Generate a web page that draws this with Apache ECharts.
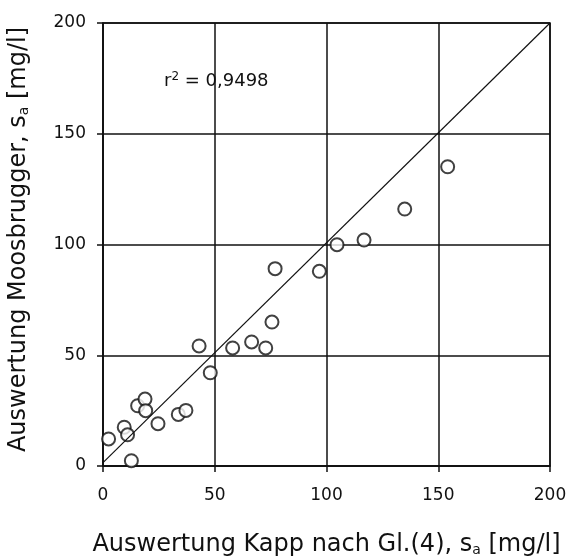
<!DOCTYPE html>
<html>
<head>
<meta charset="utf-8">
<script src="https://cdn.jsdelivr.net/npm/echarts@6/dist/echarts.min.js"></script>
<style>
  html, body { margin: 0; padding: 0; background: #fff; }
  #chart { width: 569px; height: 557px; }
</style>
</head>
<body>
<div id="chart"></div>
<script>
// Kapp (x) vs Moosbrugger (y), s_a in mg/l
const kapp = [2.5, 9.5, 11, 12.7, 15.5, 18.8, 19.1, 24.6, 33.7, 37.1, 43, 48, 58, 66.5, 72.8, 75.6, 77, 96.8, 104.7, 116.8, 135, 154.2];
const moos = [12.2, 17.5, 14.1, 2.4, 27.2, 30.2, 25, 19.1, 23.3, 25.1, 54.2, 42.1, 53.3, 56, 53.3, 65, 89.1, 87.9, 99.9, 102, 116, 135.1];
const fitLine = [[0, 1.5], [200, 200]];
const axisTicks = [0, 50, 100, 150, 200];
const r2Text = "0,9498";

const points = kapp.map((x, i) => [x, moos[i]]);

const chart = echarts.init(document.getElementById("chart"));

const ink = "#111";
const font = "DejaVu Sans, sans-serif";

const axisBase = {
    type: "value",
    min: axisTicks[0],
    max: axisTicks[axisTicks.length - 1],
    interval: 50,
    axisLine: { show: true, lineStyle: { color: ink, width: 1.5 } },
    axisTick: { show: true, length: 6, lineStyle: { color: ink, width: 1.5 } },
    splitLine: { show: true, lineStyle: { color: ink, width: 1.5 } },
    axisLabel: { color: ink, fontSize: 17, fontFamily: font },
    nameLocation: "middle"
};

const nameStyle = (pad) => ({
    color: ink,
    fontSize: 24,
    fontFamily: font,
    padding: pad,
    rich: {
        sub: { fontSize: 14, verticalAlign: "bottom", padding: [8, 0, 0, 0], color: ink, fontFamily: font }
    }
});

chart.setOption({
    backgroundColor: "#fff",
    animation: false,
    grid: {
        left: 103,
        right: 19,
        top: 23,
        bottom: 91,
        outerBoundsMode: "none",
        containLabel: false,
        show: true,
        borderColor: ink,
        borderWidth: 1.5
    },
    xAxis: Object.assign({}, axisBase, {
        name: "Auswertung Kapp nach Gl.(4), s{sub|a} [mg/l]",
        nameGap: 67,
        nameTextStyle: nameStyle([0, 0, 0, 0]),
        axisLabel: Object.assign({}, axisBase.axisLabel, { margin: 21 })
    }),
    yAxis: Object.assign({}, axisBase, {
        name: "Auswertung Moosbrugger, s{sub|a} [mg/l]",
        nameGap: 72,
        nameTextStyle: nameStyle([0, 0, 0, 10]),
        axisLabel: Object.assign({}, axisBase.axisLabel, { margin: 17 })
    }),
    graphic: [{
        type: "text",
        left: 164,
        top: 71,
        style: {
            text: "r{sup|2} = " + r2Text,
            fill: ink,
            fontSize: 18,
            fontFamily: font,
            rich: {
                sup: { fontSize: 12, verticalAlign: "top", padding: [0, 0, 8, 0], fill: ink, fontFamily: font }
            }
        }
    }],
    series: [
        {
            type: "line",
            data: fitLine,
            symbol: "none",
            lineStyle: { color: ink, width: 1.2 },
            silent: true
        },
        {
            type: "scatter",
            data: points,
            symbol: "circle",
            symbolSize: 13,
            itemStyle: { color: "#fff", borderColor: ink, borderWidth: 2 }
        }
    ]
});
</script>
</body>
</html>
